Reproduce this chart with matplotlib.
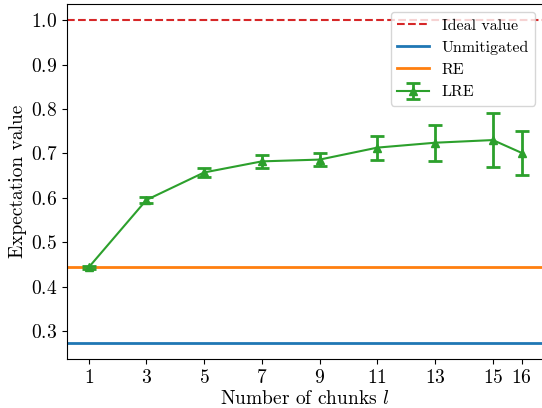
import matplotlib
matplotlib.use("Agg")
import matplotlib.pyplot as plt
import numpy as np

plt.rcParams['font.family'] = 'serif'
plt.rcParams['font.serif'] = ['cmr10']
plt.rcParams['mathtext.fontset'] = 'cm'
plt.rcParams['axes.formatter.use_mathtext'] = True
plt.rcParams['font.size'] = 14

# data
chunks = [1, 3, 5, 7, 9, 11, 13, 15, 16]
lre_vals = [0.443, 0.595, 0.657, 0.682, 0.686, 0.713, 0.724, 0.730, 0.701]
lre_errs = [0.003, 0.007, 0.011, 0.015, 0.015, 0.027, 0.041, 0.060, 0.050]
ideal = 1.0
unmitigated = 0.273
re_val = 0.445

fig = plt.figure(figsize=(5.42, 4.08), dpi=100)
ax = fig.add_axes([0.1236, 0.120, 0.879, 0.870])

ax.axhline(ideal, color='tab:red', ls='--', lw=1.5, label='Ideal value')
ax.axhline(unmitigated, color='tab:blue', lw=2, label='Unmitigated')
ax.axhline(re_val, color='tab:orange', lw=2, label='RE')
ax.errorbar(chunks, lre_vals, yerr=lre_errs, color='tab:green', marker='^',
            ms=6, lw=1.5, elinewidth=2, capsize=5, capthick=2, label='LRE')

ax.set_xticks(chunks)
ax.tick_params(labelsize=14)
ax.set_xlabel('Number of chunks $l$', labelpad=2)
ax.set_ylabel('Expectation value', labelpad=2.5)
ax.legend(loc='upper right', fontsize=11.5)

fig.savefig('out.png', dpi=100)
